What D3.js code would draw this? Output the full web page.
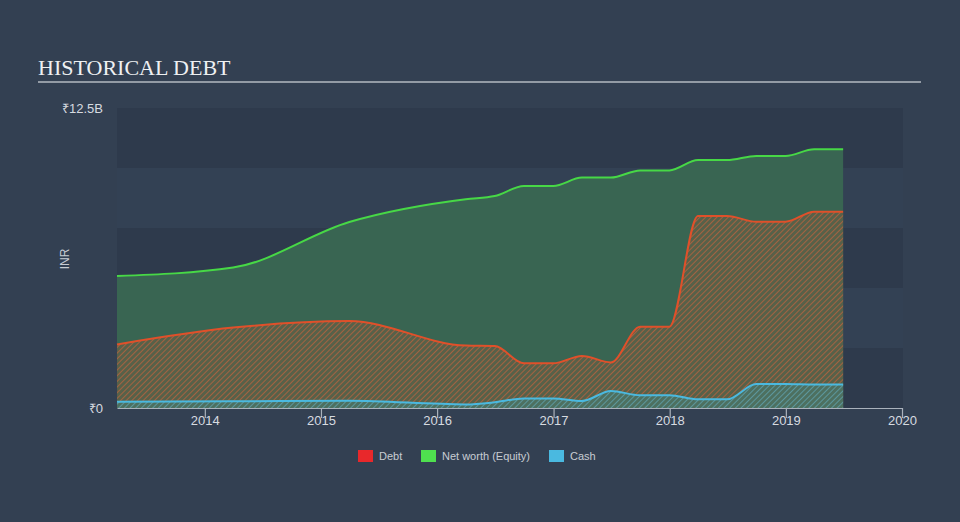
<!DOCTYPE html>
<html>
<head>
<meta charset="utf-8">
<script src="https://cdn.jsdelivr.net/npm/d3@7"></script>
<style>
  html, body { margin: 0; padding: 0; background: #334052; }
  svg { display: block; }
</style>
</head>
<body>
<svg id="chart" width="960" height="522"></svg>
<script>
// ---- data (values in billions INR) ----
const dates = ["2013-03-31","2014-03-31","2015-03-31","2016-03-31","2016-06-30","2016-09-30","2016-12-31",
  "2017-03-31","2017-06-30","2017-09-30","2017-12-31","2018-03-31","2018-06-30","2018-09-30","2018-12-31",
  "2019-03-31","2019-06-30"];
const debt     = [2.65, 3.35, 3.62, 2.6, 2.58, 1.86, 1.86, 2.17, 1.9, 3.39, 3.39, 8.0, 8.0, 7.76, 7.76, 8.18, 8.18];
const netWorth = [5.5, 5.85, 7.75, 8.7, 8.83, 9.25, 9.25, 9.6, 9.6, 9.9, 9.9, 10.33, 10.33, 10.5, 10.5, 10.78, 10.78];
const cash     = [0.26, 0.28, 0.3, 0.15, 0.24, 0.4, 0.4, 0.29, 0.71, 0.53, 0.53, 0.36, 0.36, 1.0, 1.0, 0.98, 0.98];
const xTickYears = [2014, 2015, 2016, 2017, 2018, 2019, 2020];
const yTickLabels = ["₹0", "₹12.5B"];
const yTickValues = [0, 12.5];
const legendItems = ["Debt", "Net worth (Equity)", "Cash"];
const legendColors = ["#e8282b", "#4fe04f", "#4ab9e0"];

const parse = d3.timeParse("%Y-%m-%d");
const rows = dates.map((d, i) => ({ date: parse(d), debt: debt[i], nw: netWorth[i], cash: cash[i] }));

const svg = d3.select("#chart");
const L = 117, R = 902, T = 108, B = 408;

const x = d3.scaleTime().domain([parse("2013-03-31"), new Date(2020, 0, 1)]).range([L, R]);
const y = d3.scaleLinear().domain([0, 12.5]).range([B, T]);

// title
svg.append("text").attr("x", 38).attr("y", 75)
  .style("font-family", "'Liberation Serif', 'DejaVu Serif', serif")
  .style("font-size", "22px").style("fill", "#eef0f2")
  .text("HISTORICAL DEBT");
svg.append("line").attr("x1", 38).attr("x2", 921).attr("y1", 82).attr("y2", 82)
  .attr("stroke", "#b4bac2").attr("stroke-width", 1.5);

// background bands
const bands = d3.range(5);
svg.append("g").selectAll("rect").data(bands).join("rect")
  .attr("x", L).attr("width", R + 1 - L)
  .attr("y", d => y(12.5 - d * 2.5))
  .attr("height", d => y(0) - y(2.5))
  .attr("fill", d => d % 2 === 0 ? "#2e3a4c" : "#334154");

// patterns
const defs = svg.append("defs");
function hatch(id, color, width, bg) {
  const p = defs.append("pattern").attr("id", id).attr("patternUnits", "userSpaceOnUse")
    .attr("width", 4).attr("height", 4).attr("patternTransform", "rotate(45)");
  if (bg) p.append("rect").attr("width", 4).attr("height", 4).attr("fill", bg);
  p.append("line").attr("x1", 0).attr("y1", 0).attr("x2", 0).attr("y2", 4)
    .attr("stroke", color).attr("stroke-width", width);
}
hatch("debtHatch", "#c8623c", 1.6, "#5a6048");
hatch("cashHatch", "#4ab0c8", 1.6, "#4a7466");

const curve = d3.curveMonotoneX;
const area = key => d3.area().x(d => x(d.date)).y0(y(0)).y1(d => y(d[key])).curve(curve);
const line = key => d3.line().x(d => x(d.date)).y(d => y(d[key])).curve(curve);

// net worth area
svg.append("path").datum(rows).attr("d", area("nw")).attr("fill", "#3a6752").attr("opacity", 0.95);
// debt area
svg.append("path").datum(rows).attr("d", area("debt")).attr("fill", "url(#debtHatch)").attr("opacity", 0.9);
// cash area
svg.append("path").datum(rows).attr("d", area("cash")).attr("fill", "url(#cashHatch)").attr("opacity", 0.8);

// lines
svg.append("path").datum(rows).attr("d", line("nw")).attr("fill", "none").attr("stroke", "#47d846").attr("stroke-width", 2);
svg.append("path").datum(rows).attr("d", line("debt")).attr("fill", "none").attr("stroke", "#e0502a").attr("stroke-width", 2);
svg.append("path").datum(rows).attr("d", line("cash")).attr("fill", "none").attr("stroke", "#4ab9e0").attr("stroke-width", 2);

// x axis
const xAxis = d3.axisBottom(x)
  .tickValues(xTickYears.map(yr => new Date(yr, 0, 1)))
  .tickFormat(d3.timeFormat("%Y"))
  .tickSize(10).tickSizeOuter(0);
const gx = svg.append("g").attr("transform", `translate(0,${B})`).call(xAxis);
gx.select(".domain").attr("stroke", "#aab2bc").attr("stroke-width", 1.2);
gx.selectAll(".tick line").attr("stroke", "#aab2bc").attr("stroke-width", 1.2);
gx.selectAll(".tick text").attr("y", 8).attr("dy", "0.71em").attr("dx", "0")
  .style("font-family", "'Liberation Sans', Arial, sans-serif").style("font-size", "13px").style("fill", "#d7dbe0");

// y labels
svg.append("g").selectAll("text").data(yTickValues).join("text")
  .attr("x", 103).attr("y", d => y(d)).attr("dy", "0.35em").attr("text-anchor", "end")
  .style("font-family", "'Liberation Sans', Arial, sans-serif").style("font-size", "13px").style("fill", "#d7dbe0")
  .text((d, i) => yTickLabels[i]);
svg.append("text").attr("transform", "translate(69,259) rotate(-90)").attr("text-anchor", "middle")
  .style("font-family", "'Liberation Sans', Arial, sans-serif").style("font-size", "12px").style("fill", "#c8ccd2")
  .text("INR");

// legend
const legendX = [358, 421, 549];
const lg = svg.append("g").selectAll("g").data(legendItems).join("g")
  .attr("transform", (d, i) => `translate(${legendX[i]},450)`);
lg.append("rect").attr("width", 15).attr("height", 12).attr("fill", (d, i) => legendColors[i]);
lg.append("text").attr("x", 21).attr("y", 6.5).attr("dy", "0.35em")
  .style("font-family", "'Liberation Sans', Arial, sans-serif").style("font-size", "11px").style("fill", "#c8ccd2")
  .text(d => d);
</script>
</body>
</html>
